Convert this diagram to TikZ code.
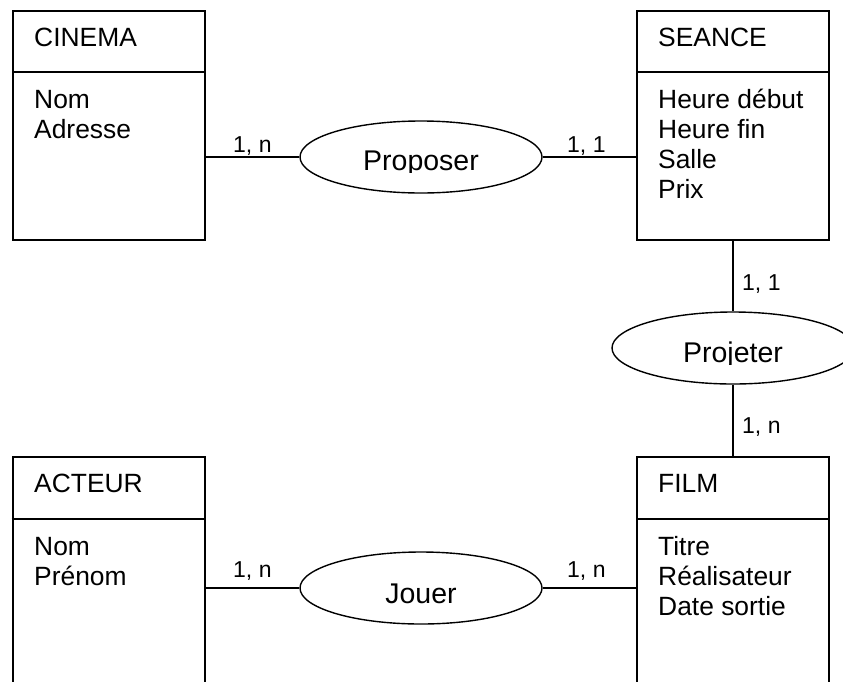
\documentclass[tikz,border=0pt]{standalone}
\usepackage{fontspec}
\setmainfont{Liberation Sans}
\usetikzlibrary{shapes.geometric}

\tikzset{
  entity/.style={draw, rectangle, line width=2pt, inner sep=0pt, minimum width=192pt},
  rel/.style={draw, ellipse, line width=1.4pt, inner sep=0pt,
              minimum width=242pt, minimum height=72pt},
  link/.style={line width=1.7pt},
  divider/.style={line width=2pt},
  ename/.style={anchor=base west, inner sep=0pt, font=\fontsize{26.4}{30}\selectfont},
  card/.style={anchor=base west, inner sep=0pt, font=\fontsize{23}{26}\selectfont},
  rname/.style={anchor=base, inner sep=0pt, font=\fontsize{28.5}{32}\selectfont},
}

\begin{document}
\begin{tikzpicture}[x=1pt, y=-1pt]
  \useasboundingbox (0,0) rectangle (843,681);
  \fill[white] (0,0) rectangle (843,681);
  \clip (0,0) rectangle (843,681);

  % entities
  \node[entity, minimum height=229pt] (cinema) at (109,125.5) {};
  \node[entity, minimum height=229pt] (seance) at (733,125.5) {};
  \node[entity, minimum height=264pt] (acteur) at (108.5,588.5) {};
  \node[entity, minimum height=264pt] (film)   at (733,588.5) {};

  % header separators
  \draw[divider] (cinema.west |- 0,72)  -- (cinema.east |- 0,72);
  \draw[divider] (seance.west |- 0,72)  -- (seance.east |- 0,72);
  \draw[divider] (acteur.west |- 0,519) -- (acteur.east |- 0,519);
  \draw[divider] (film.west |- 0,519)   -- (film.east |- 0,519);

  % entity names and attributes
  \node[ename] (cinemaT) at (34,46)  {CINEMA};
  \node[ename] (cinemaA1) at (34,108) {Nom};
  \node[ename] (cinemaA2) at (34,138) {Adresse};

  \node[ename] (seanceT) at (658,46)  {SEANCE};
  \node[ename] (seanceA1) at (658,108) {Heure début};
  \node[ename] (seanceA2) at (658,138) {Heure fin};
  \node[ename] (seanceA3) at (658,168) {Salle};
  \node[ename] (seanceA4) at (658,198) {Prix};

  \node[ename] (acteurT) at (34,492)  {ACTEUR};
  \node[ename] (acteurA1) at (34,555) {Nom};
  \node[ename] (acteurA2) at (34,585) {Prénom};

  \node[ename] (filmT) at (658,492)  {FILM};
  \node[ename] (filmA1) at (658,555) {Titre};
  \node[ename] (filmA2) at (658,585) {Réalisateur};
  \node[ename] (filmA3) at (658,615) {Date sortie};

  % associations
  \node[rel] (proposer) at (421,157) {};
  \node[rel] (projeter) at (733,348) {};
  \node[rel] (jouer)    at (421,588) {};

  \begin{scope}
    \clip (300,130) rectangle (542,172);
    \node[rname] (proposerT) at (421,170) {Proposer};
  \end{scope}
  \begin{scope}
    \clip (612,320) rectangle (843,364);
    \node[rname] (projeterT) at (733,362) {Projeter};
  \end{scope}
  \node[rname] (jouerT) at (421,603) {Jouer};

  % links
  \draw[link] (cinema.east |- proposer.west) -- (proposer.west);
  \draw[link] (proposer.east) -- (seance.west |- proposer.east);
  \draw[link] (seance.south) -- (projeter.north);
  \draw[link] (projeter.south) -- (film.north);
  \draw[link] (acteur.east |- jouer.west) -- (jouer.west);
  \draw[link] (jouer.east) -- (film.west |- jouer.east);

  % cardinalities
  \node[card] (c1) at (233,152) {1, n};
  \node[card] (c2) at (567,152) {1, 1};
  \node[card] (c3) at (742,290) {1, 1};
  \node[card] (c4) at (742,433) {1, n};
  \node[card] (c5) at (233,577) {1, n};
  \node[card] (c6) at (567,577) {1, n};
\end{tikzpicture}
\end{document}
